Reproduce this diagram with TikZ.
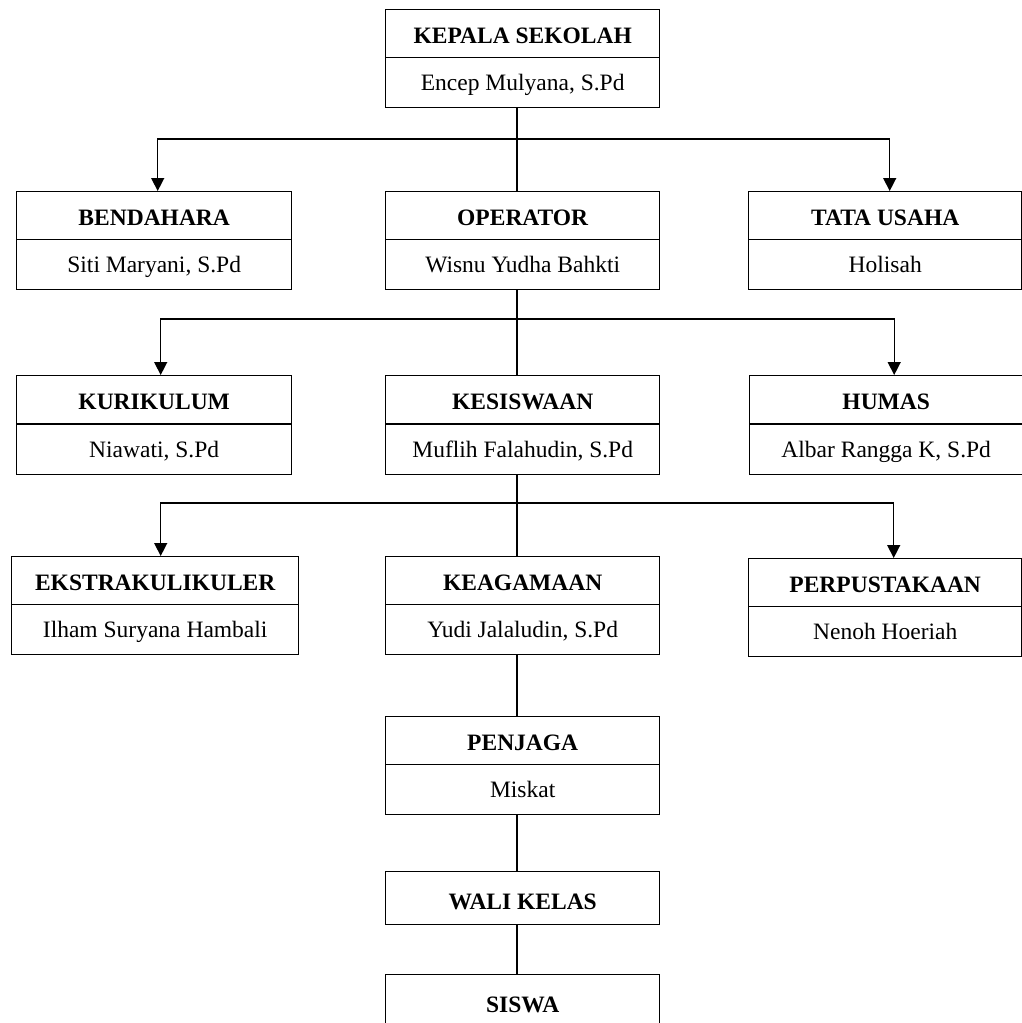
\documentclass[tikz,border=0pt]{standalone}
\usepackage{fontspec}
\setmainfont{Liberation Serif}
\usetikzlibrary{arrows.meta,calc}
\tikzset{
  hdr/.style={draw, line width=1.4pt, anchor=north west, inner sep=0pt, minimum height=48pt,
    text height=20pt, text depth=0pt, font=\fontsize{23.5}{28}\selectfont\bfseries},
  nm/.style={draw, line width=1.4pt, anchor=north west, inner sep=0pt, minimum height=50pt,
    text height=16pt, text depth=0pt, font=\fontsize{23.5}{28}\selectfont},
  solo/.style={draw, line width=1.4pt, anchor=north west, inner sep=0pt, minimum height=53pt,
    text height=22pt, text depth=0pt, font=\fontsize{23.5}{28}\selectfont\bfseries},
  conn/.style={line width=1.4pt},
  arr/.style={line width=1.4pt, -{Triangle[width=13pt,length=13pt]}}
}
\begin{document}
\begin{tikzpicture}[x=1pt,y=-1pt]
\useasboundingbox (0,0) rectangle (1022,1023);
\clip (0,0) rectangle (1022,1023);
\fill[white] (0,0) rectangle (1022,1023);
% top
\node[hdr, minimum width=274pt] (kepala) at (385,9) {KEPALA SEKOLAH};
\node[nm, minimum width=274pt] (kepalaN) at (385,57) {Encep Mulyana, S.Pd};
% row 1
\node[hdr, minimum width=275pt] (bend) at (16,191) {BENDAHARA};
\node[nm, minimum width=275pt] (bendN) at (16,239) {Siti Maryani, S.Pd};
\node[hdr, minimum width=274pt] (oper) at (385,191) {OPERATOR};
\node[nm, minimum width=274pt] (operN) at (385,239) {Wisnu Yudha Bahkti};
\node[hdr, minimum width=273pt] (tata) at (748,191) {TATA USAHA};
\node[nm, minimum width=273pt] (tataN) at (748,239) {Holisah};
% row 2
\node[hdr, minimum width=275pt] (kuri) at (16,375) {KURIKULUM};
\node[nm, minimum width=275pt] (kuriN) at (16,424) {Niawati, S.Pd};
\node[hdr, minimum width=274pt] (kesis) at (385,375) {KESISWAAN};
\node[nm, minimum width=274pt] (kesisN) at (385,424) {Muflih Falahudin, S.Pd};
\node[hdr, minimum width=273pt] (humas) at (749,375) {HUMAS};
\node[nm, minimum width=273pt] (humasN) at (749,424) {Albar Rangga K, S.Pd};
% row 3
\node[hdr, minimum width=287pt] (ekstra) at (11,556) {EKSTRAKULIKULER};
\node[nm, minimum width=287pt] (ekstraN) at (11,604) {Ilham Suryana Hambali};
\node[hdr, minimum width=274pt] (keag) at (385,556) {KEAGAMAAN};
\node[nm, minimum width=274pt] (keagN) at (385,604) {Yudi Jalaludin, S.Pd};
\node[hdr, minimum width=273pt] (perp) at (748,558) {PERPUSTAKAAN};
\node[nm, minimum width=273pt] (perpN) at (748,606) {Nenoh Hoeriah};
% column
\node[hdr, minimum width=274pt] (penj) at (385,716) {PENJAGA};
\node[nm, minimum width=274pt] (penjN) at (385,764) {Miskat};
\node[solo, minimum width=274pt] (wali) at (385,871) {WALI KELAS};
\node[solo, minimum width=274pt] (siswa) at (385,974) {SISWA};
% connectors
\coordinate (tx) at (517,0);
\coordinate (j1) at (517,139);
\coordinate (j2) at (517,319);
\coordinate (j3) at (517,503);
\draw[conn] (kepalaN.south -| tx) -- (oper.north -| tx);
\draw[arr] (j1) -| ($(bend.north)+(3.5,0)$);
\draw[arr] (j1) -| ($(tata.north)+(4.5,0)$);
\draw[conn] (operN.south -| tx) -- (kesis.north -| tx);
\draw[arr] (j2) -| ($(kuri.north)+(6.5,0)$);
\draw[arr] (j2) -| ($(humas.north)+(8,0)$);
\draw[conn] (kesisN.south -| tx) -- (keag.north -| tx);
\draw[arr] (j3) -| ($(ekstra.north)+(5.5,0)$);
\draw[arr] (j3) -| ($(perp.north)+(8.5,0)$);
\draw[conn] (keagN.south -| tx) -- (penj.north -| tx);
\draw[conn] (penjN.south -| tx) -- (wali.north -| tx);
\draw[conn] (wali.south -| tx) -- (siswa.north -| tx);
\end{tikzpicture}
\end{document}
